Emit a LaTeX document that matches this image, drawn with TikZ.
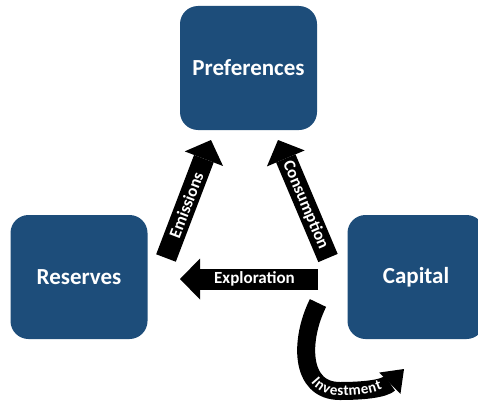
\documentclass[tikz,border=0pt]{standalone}
\usepackage{fontspec}
\setmainfont{Carlito}
\usetikzlibrary{arrows.meta,decorations.text}
\definecolor{boxblue}{RGB}{29,77,122}
\newcommand\invfont{\fontsize{15}{15}\selectfont\bfseries}
\begin{document}
\begin{tikzpicture}[x=1pt,y=1pt,
  box/.style={fill=boxblue, rounded corners=18pt, minimum width=137pt, minimum height=124pt, inner sep=0pt, text=white, font=\fontsize{23}{27}\selectfont\bfseries},
  flow/.style={line width=21pt, -{Triangle[length=20pt 0 0, width=41pt 0 0, line width=0pt]}},
  curveflow/.style={line width=18pt, -{Triangle[length=20pt 0 0, width=30pt 0 0, line width=0pt]}},
  flowlabel/.style={sloped, text=white, font=\fontsize{17}{20}\selectfont\bfseries, inner sep=0pt},
]
\useasboundingbox (0,0) rectangle (478,408);
\node[box] (pref) at (248.5,340) {Preferences};
\node[box] (res) at (79,131) {Reserves};
\node[box] (cap) at (416,131) {Capital};
\coordinate (emT) at (166,150); \coordinate (emH) at (211,268);
\coordinate (coT) at (328,150); \coordinate (coH) at (278,268);
\coordinate (exT) at (318,129); \coordinate (exH) at (180,129);
\coordinate (inS) at (318,105); \coordinate (inB) at (340,17); \coordinate (inE) at (404,39);
\draw[flow] (emT) -- node[flowlabel,pos=0.45] (lem) {Emissions} (emH);
\draw[flow] (coT) -- node[flowlabel,pos=0.45] (lco) {Consumption} (coH);
\draw[flow] (exT) -- node[flowlabel,pos=0.46] (lex) {Exploration} (exH);
\draw[curveflow] (inS) .. controls (300,69) and (299,17) .. (inB) .. controls (362,17) and (384,19) .. (inE);
\path[decorate, decoration={text along path, text={|\invfont|Investment}, text color=white, text align={left indent=80pt}, raise=-4.5pt}]
  (inS) .. controls (300,69) and (299,17) .. (inB) .. controls (362,17) and (384,19) .. (inE);
\end{tikzpicture}
\end{document}
